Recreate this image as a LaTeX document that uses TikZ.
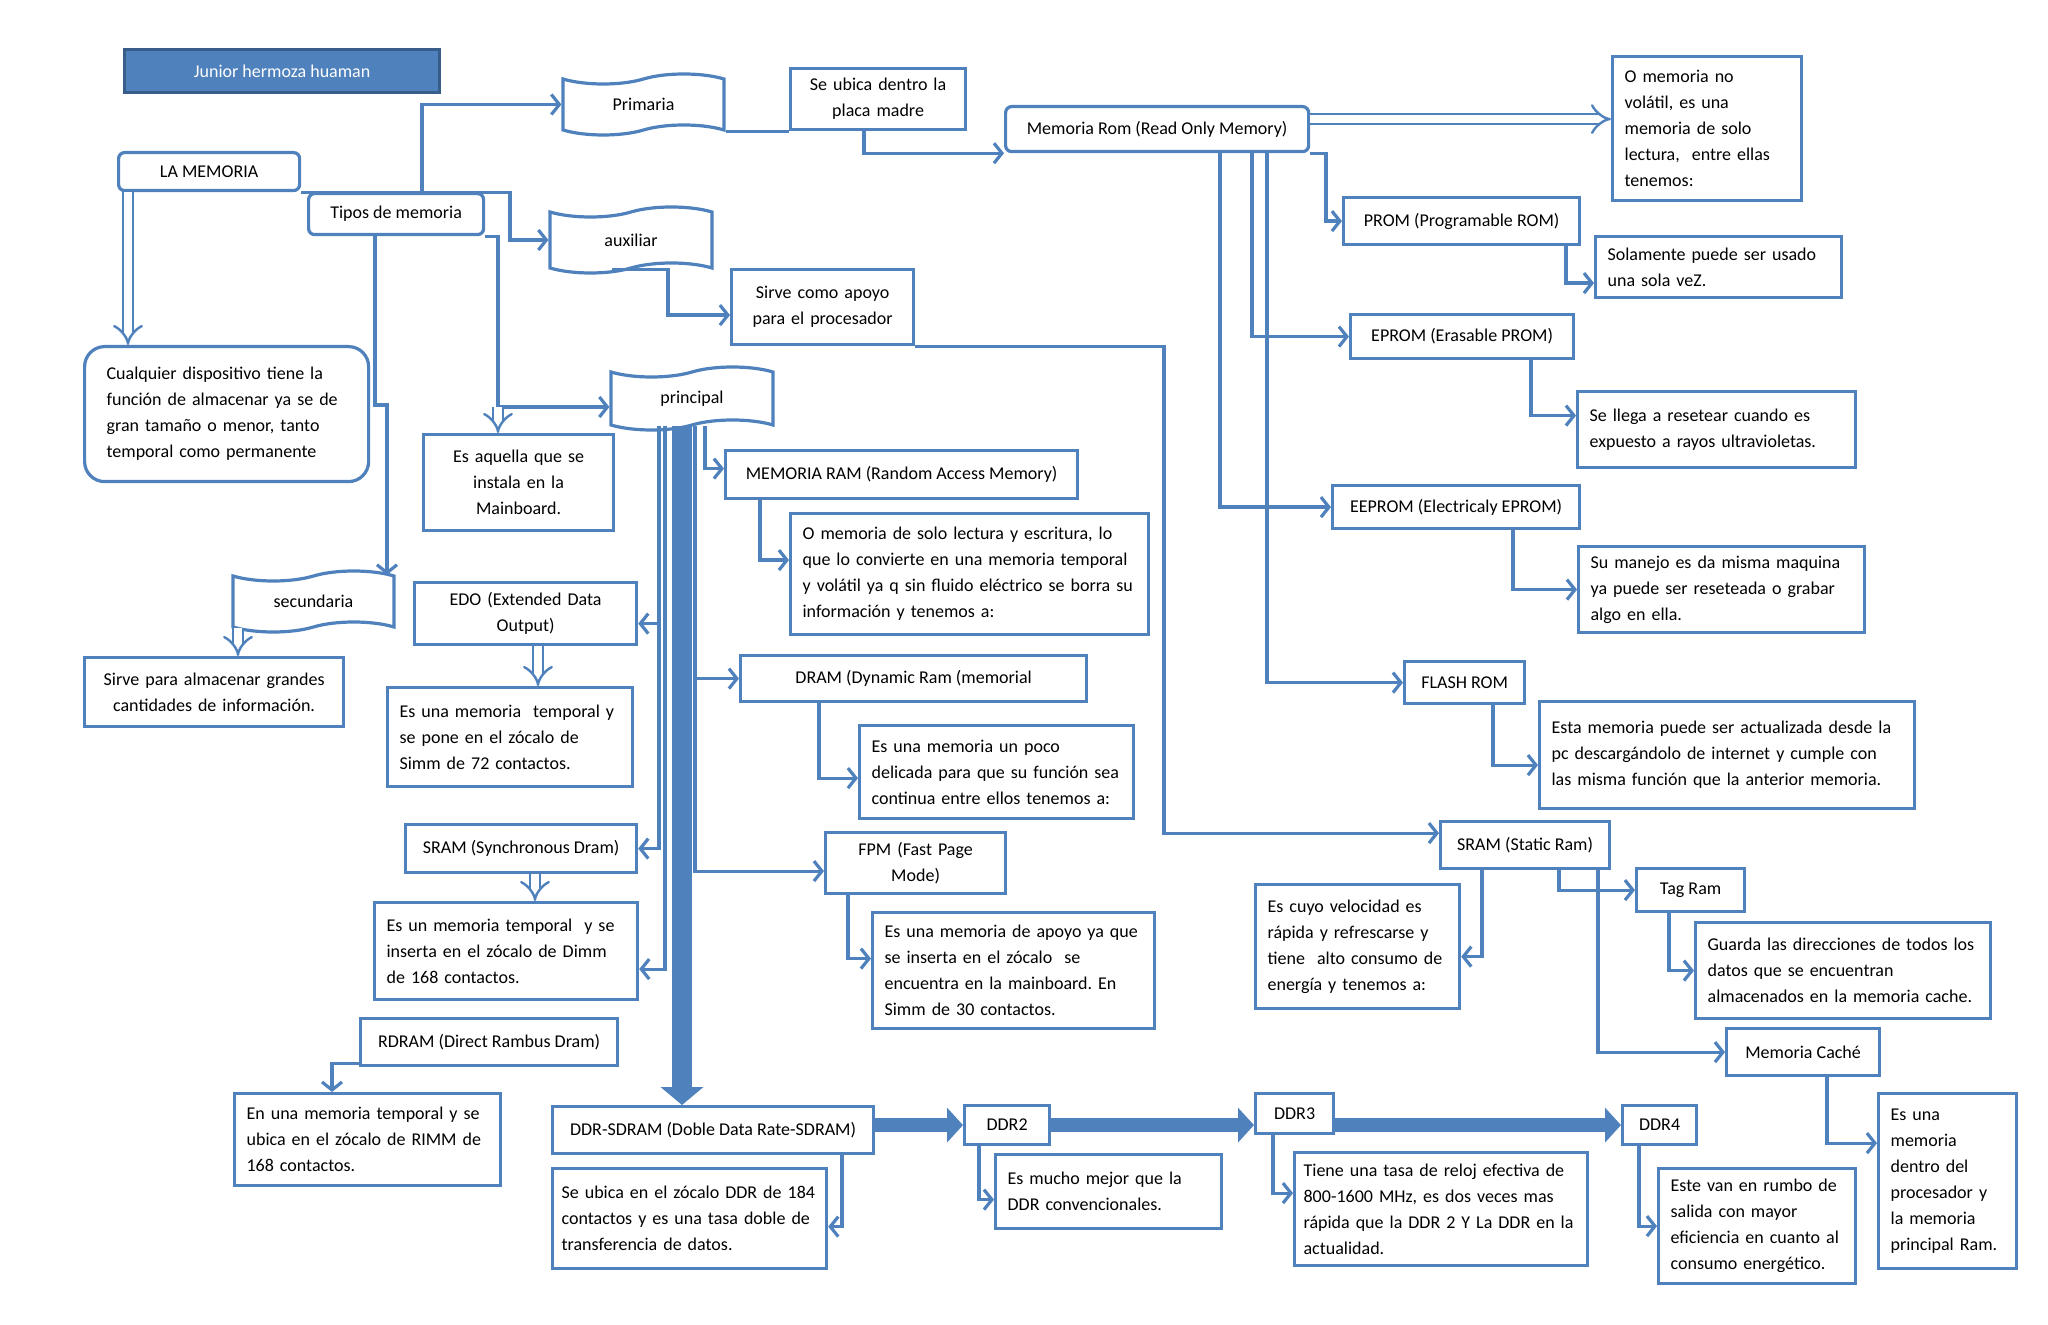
\documentclass[tikz,border=0pt]{standalone}
\usepackage{fontspec}
\setmainfont{Carlito}
\usetikzlibrary{arrows.meta,shapes.symbols}
\definecolor{azul}{RGB}{79,129,189}
\definecolor{azulosc}{RGB}{56,93,138}
\frenchspacing
\tikzset{
  caja/.style={draw=azul, line width=1.6pt, fill=white, font=\fontsize{9}{13}\selectfont,
    inner xsep=6pt, inner ysep=2pt, anchor=north west},
  cajaizq/.style={caja, align=left},
  cajacen/.style={caja, align=center},
  titulo/.style={caja, fill=azul, draw=azulosc, text=white},
  cinta/.style={draw=azul, line width=1.6pt, fill=white, font=\fontsize{9}{13}\selectfont,
    shape=tape, tape bend height=5pt},
  linea/.style={draw=azul, line width=1.6pt},
  flecha/.style={linea, -{Straight Barb[length=4pt,width=10pt]}},
  doble/.style={draw=azul, line width=1.2pt, double=white, double distance=4pt, -{Implies[scale=1.7]}},
  gruesa/.style={draw=azul, line width=7pt, -{Triangle[length=8pt,width=17pt]}},
  gruesav/.style={draw=azul, line width=10pt, -{Triangle[length=9pt,width=21pt]}}
}
\begin{document}
\begin{tikzpicture}[x=0.5pt,y=-0.5pt]
\useasboundingbox (0,0) rectangle (2048,1325);

% columna izquierda
\node[titulo, minimum width=157.5pt, minimum height=21.5pt] (titulo) at (123,48) {Junior hermoza huaman};
\node[caja, rounded corners=3pt, minimum width=90.5pt, minimum height=19pt] (lamem) at (117,151) {LA MEMORIA};
\node[caja, rounded corners=3pt, minimum width=87.5pt, minimum height=20.5pt] (tipos) at (307,192) {Tipos de memoria};
\node[cajaizq, rounded corners=10pt, inner xsep=11pt, minimum width=142pt, minimum height=67.5pt, text width=120pt] (cualq) at (83,345) {Cualquier dispositivo tiene la\\función de almacenar ya se de\\gran tamaño o menor, tanto\\temporal como permanente};
\node[cinta, minimum width=80.5pt, minimum height=30.5pt] (primaria) at (643.5,104.5) {Primaria};
\node[cinta, minimum width=81pt, minimum height=33pt] (auxiliar) at (631,240) {auxiliar};
\node[cinta, minimum width=81pt, minimum height=31.5pt] (principal) at (692,398.5) {principal};
\node[cinta, minimum width=80.5pt, minimum height=30.5pt] (secund) at (313.5,601.5) {secundaria};
\node[cajacen, minimum width=87.5pt, minimum height=30.5pt, text width=75.5pt] (placa) at (789,67) {Se ubica dentro la\\placa madre};
\node[cajacen, minimum width=91pt, minimum height=37.5pt, text width=79pt] (apoyo) at (730,268) {Sirve como apoyo\\para el procesador};
\node[cajacen, minimum width=95pt, minimum height=48pt, text width=83pt] (aquella) at (422,433) {Es aquella que se\\instala en la\\Mainboard.};
\node[cajacen, minimum width=129.5pt, minimum height=34.5pt, text width=117.5pt] (grandes) at (83,656) {Sirve para almacenar grandes\\cantidades de información.};
\node[cajacen, minimum width=111pt, minimum height=31pt, text width=99pt] (edo) at (413,581) {EDO (Extended Data\\Output)};
\node[cajaizq, minimum width=122.5pt, minimum height=49.5pt, text width=110.5pt] (simm72) at (386,686) {Es una memoria\ \ temporal y\\se pone en el zócalo de\\Simm de 72 contactos.};
\node[caja, minimum width=115.5pt, minimum height=24pt] (sramsy) at (404,823) {SRAM (Synchronous Dram)};
\node[cajaizq, minimum width=131.5pt, minimum height=48.5pt, text width=119.5pt] (dimm) at (373,901) {Es un memoria temporal\ \ y se\\inserta en el zócalo de Dimm\\de 168 contactos.};
\node[caja, minimum width=128.5pt, minimum height=23.5pt] (rdram) at (359,1017) {RDRAM (Direct Rambus Dram)};
\node[cajaizq, minimum width=133pt, minimum height=46pt, text width=121pt] (rimm) at (233,1092) {En una memoria temporal y se\\ubica en el zócalo de RIMM de\\168 contactos.};

% RAM
\node[caja, minimum width=176pt, minimum height=24pt] (ram) at (724,449) {MEMORIA RAM (Random Access Memory)};
\node[cajaizq, minimum width=179pt, minimum height=60.5pt, text width=167pt] (lectura) at (789,512) {O memoria de solo lectura y escritura, lo\\que lo convierte en una memoria temporal\\y volátil ya q sin fluido eléctrico se borra su\\información y tenemos a:};
\node[caja, minimum width=173pt, minimum height=23pt] (dram) at (739,654) {DRAM (Dynamic Ram (memorial};
\node[cajaizq, minimum width=137pt, minimum height=46.5pt, text width=125pt] (poco) at (858,724) {Es una memoria un poco\\delicada para que su función sea\\continua entre ellos tenemos a:};
\node[cajacen, minimum width=90pt, minimum height=30.5pt, text width=78pt] (fpm) at (824,831) {FPM (Fast Page\\Mode)};
\node[cajaizq, minimum width=141pt, minimum height=58pt, text width=129pt] (apoyo30) at (871,911) {Es una memoria de apoyo ya que\\se inserta en el zócalo\ \ se\\encuentra en la mainboard. En\\Simm de 30 contactos.};
\node[caja, minimum width=160.5pt, minimum height=23.5pt] (ddrsd) at (551,1105) {DDR-SDRAM (Doble Data Rate-SDRAM)};
\node[cajaizq, inner xsep=4.5pt, minimum width=137pt, minimum height=50pt, text width=128pt] (zocalo) at (551,1167) {Se ubica en el zócalo DDR de 184\\contactos y es una tasa doble de\\transferencia de datos.};
\node[caja, minimum width=42.5pt, minimum height=19.5pt] (ddr2) at (963,1104) {DDR2};
\node[cajaizq, minimum width=113pt, minimum height=37pt, text width=101pt] (mucho) at (994,1153) {Es mucho mejor que la\\DDR convencionales.};
\node[caja, minimum width=39pt, minimum height=20pt] (ddr3) at (1254,1092) {DDR3};
\node[cajaizq, inner xsep=4.5pt, minimum width=146.5pt, minimum height=56.5pt, text width=137.5pt] (tiene) at (1293,1151) {Tiene una tasa de reloj efectiva de\\800-1600 MHz, es dos veces mas\\rápida que la DDR 2 Y La DDR en la\\actualidad.};
\node[caja, minimum width=37pt, minimum height=19.5pt] (ddr4) at (1621,1104) {DDR4};
\node[cajaizq, minimum width=98.5pt, minimum height=57.5pt, text width=86.5pt] (estevan) at (1657,1167) {Este van en rumbo de\\salida con mayor\\eficiencia en cuanto al\\consumo energético.};

% ROM
\node[caja, rounded corners=3pt, minimum width=151.5pt, minimum height=22.5pt] (rom) at (1004,105) {Memoria Rom (Read Only Memory)};
\node[cajaizq, minimum width=94.5pt, minimum height=72pt, text width=82.5pt] (novol) at (1611,55) {O memoria no\\volátil, es una\\memoria de solo\\lectura,\ \ entre ellas\\tenemos:};
\node[caja, minimum width=118pt, minimum height=23.5pt] (prom) at (1342,196) {PROM (Programable ROM)};
\node[cajaizq, minimum width=123pt, minimum height=30.5pt, text width=111pt] (solam) at (1594,235) {Solamente puede ser usado\\una sola veZ.};
\node[caja, minimum width=111.5pt, minimum height=22pt] (eprom) at (1349,313) {EPROM (Erasable PROM)};
\node[cajaizq, minimum width=139pt, minimum height=38pt, text width=127pt] (resetear) at (1576,390) {Se llega a resetear cuando es\\expuesto a rayos ultravioletas.};
\node[caja, minimum width=123.5pt, minimum height=21.5pt] (eeprom) at (1331,484) {EEPROM (Electricaly EPROM)};
\node[cajaizq, minimum width=143pt, minimum height=43pt, text width=131pt] (manejo) at (1577,545) {Su manejo es da misma maquina\\ya puede ser reseteada o grabar\\algo en ella.};
\node[caja, minimum width=60pt, minimum height=21pt] (flash) at (1403,660) {FLASH ROM};
\node[cajaizq, minimum width=187.5pt, minimum height=53.5pt, text width=175.5pt] (actualiz) at (1538,700) {Esta memoria puede ser actualizada desde la\\pc descargándolo de internet y cumple con\\las misma función que la anterior memoria.};
\node[caja, minimum width=84.5pt, minimum height=23.5pt] (sramst) at (1439,820) {SRAM (Static Ram)};
\node[cajaizq, minimum width=102pt, minimum height=62pt, text width=90pt] (cuyo) at (1254,883) {Es cuyo velocidad es\\rápida y refrescarse y\\tiene\ \ alto consumo de\\energía y tenemos a:};
\node[caja, minimum width=54pt, minimum height=21.5pt] (tagram) at (1635,867) {Tag Ram};
\node[cajaizq, minimum width=147.5pt, minimum height=48pt, text width=135.5pt] (guarda) at (1694,921) {Guarda las direcciones de todos los\\datos que se encuentran\\almacenados en la memoria cache.};
\node[caja, minimum width=76.5pt, minimum height=23.5pt] (cache) at (1725,1027) {Memoria Caché};
\node[cajaizq, minimum width=69pt, minimum height=87.5pt, text width=57pt] (esuna) at (1877,1092) {Es una\\memoria\\dentro del\\procesador y\\la memoria\\principal Ram.};

\coordinate (bifurca) at (498,407);

% conectores
\draw[flecha] (lamem.south east) -- (422,0 |- lamem.south east) |- (primaria.west);
\draw[flecha] (lamem.south east) -- (510,0 |- lamem.south east) |- (auxiliar.west);
\draw[doble] (128,0 |- lamem.south) -- (128,0 |- cualq.north);
\draw[flecha] (375,0 |- tipos.south) -- (375,405) -| (387,0 |- secund.north);
\draw[flecha] (tipos.south east) -| (bifurca) -- (bifurca -| principal.west);
\draw[doble] (bifurca) -- (bifurca |- aquella.north);
\draw[linea] (primaria.east |- placa.south) -- (placa.south west);
\draw[flecha] (864,0 |- placa.south) |- (rom.south west);
\draw[flecha] (612,0 |- auxiliar.south) -- (668,0 |- auxiliar.south) |- ([yshift=-4pt]apoyo.west);
\draw[flecha] (apoyo.south east) -- (1164,0 |- apoyo.south east) |- ([yshift=6pt]sramst.west);
\draw[doble] (238,0 |- secund.south) -- (238,0 |- grandes.north);
\draw[doble] (538,0 |- edo.south) -- (538,0 |- simm72.north);
\draw[doble] (535,0 |- sramsy.south) -- (535,0 |- dimm.north);
\draw[flecha] ([yshift=2pt]rdram.south west) -| (332,0 |- rimm.north);

% desde principal
\draw[gruesav] (682,0 |- principal.south) -- (682,0 |- ddrsd.north);
\draw[flecha] (659,0 |- principal.south) |- ([yshift=-5pt]edo.east);
\draw[flecha] (659,0 |- principal.south) |- (sramsy.east);
\draw[flecha] (665,0 |- principal.south) |- ([yshift=-9pt]dimm.east);
\draw[flecha] (705,0 |- principal.south) |- ([yshift=3pt]ram.west);
\draw[flecha] (695,0 |- principal.south) |- (dram.west);
\draw[flecha] (695,0 |- principal.south) |- ([yshift=-4pt]fpm.west);
\draw[flecha] (760,0 |- ram.south) |- ([yshift=7pt]lectura.west);
\draw[flecha] (819,0 |- dram.south) |- ([yshift=-3pt]poco.west);
\draw[flecha] (848,0 |- fpm.south) |- ([yshift=6pt]apoyo30.west);
\draw[flecha] (842,0 |- ddrsd.south) |- ([yshift=-4pt]zocalo.east);
\draw[gruesa] (ddrsd.east |- ddr2.west) -- (ddr2.west);
\draw[gruesa] (ddr2.east) -- (ddr3.west |- ddr2.east);
\draw[gruesa] (ddr3.east |- ddr4.west) -- (ddr4.west);
\draw[flecha] (979,0 |- ddr2.south) |- ([yshift=-4pt]mucho.west);
\draw[flecha] (1273,0 |- ddr3.south) |- ([yshift=8pt]tiene.west);
\draw[flecha] (1639,0 |- ddr4.south) |- (estevan.west);

% desde rom
\draw[doble] ([yshift=5pt]rom.east) -- ([yshift=5pt]rom.east -| novol.west);
\draw[flecha] (rom.south east) -- (1326,0 |- rom.south east) |- (prom.west);
\draw[flecha] (1252,0 |- rom.south) |- (eprom.west);
\draw[flecha] (1220,0 |- rom.south) |- (eeprom.west);
\draw[flecha] (1267,0 |- rom.south) |- (flash.west);
\draw[flecha] (1566,0 |- prom.south) |- ([yshift=-8pt]solam.west);
\draw[flecha] (1531,0 |- eprom.south) |- ([yshift=7pt]resetear.west);
\draw[flecha] (1513,0 |- eeprom.south) |- (manejo.west);
\draw[flecha] (1493,0 |- flash.south) |- ([yshift=-5pt]actualiz.west);
\draw[flecha] (1482,0 |- sramst.south) |- ([yshift=-5pt]cuyo.east);
\draw[flecha] (1559,0 |- sramst.south) |- (tagram.west);
\draw[flecha] (1598,0 |- sramst.south) |- (cache.west);
\draw[flecha] (1669,0 |- tagram.south) |- (guarda.west);
\draw[flecha] (1827,0 |- cache.south) |- ([yshift=19pt]esuna.west);
\end{tikzpicture}
\end{document}
